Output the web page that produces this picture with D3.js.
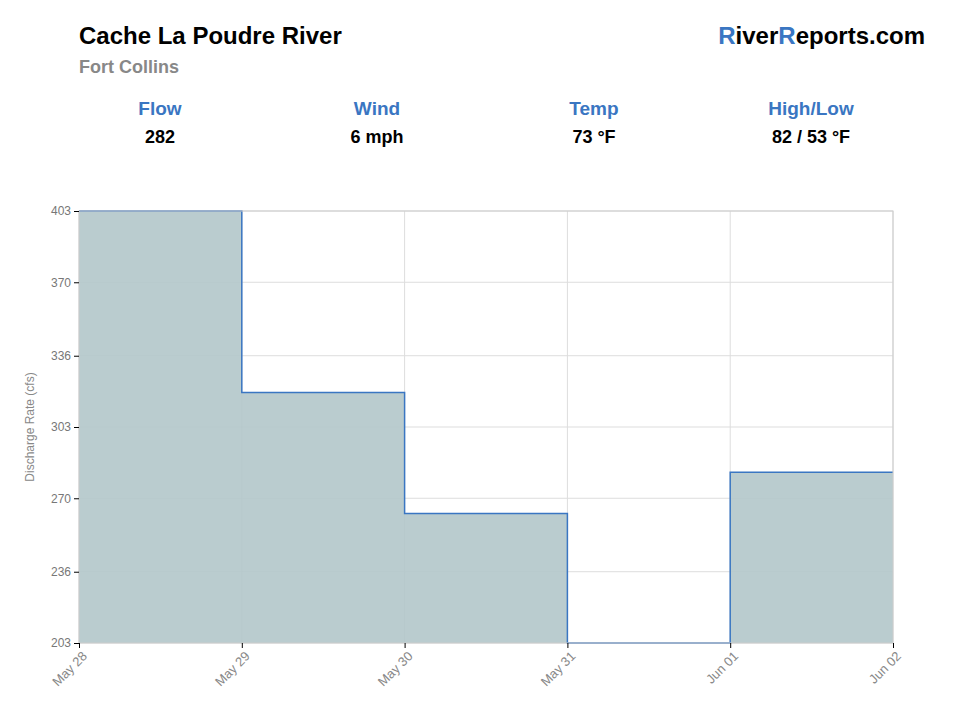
<!DOCTYPE html>
<html><head><meta charset="utf-8">
<script src="https://cdn.jsdelivr.net/npm/d3@7"></script>
<style>body{margin:0;background:#fff;font-family:"Liberation Sans",Arial,sans-serif}</style>
</head><body><svg id="c" width="960" height="720"></svg>
<script>
const dates=["2025-05-28","2025-05-29","2025-05-30","2025-05-31","2025-06-01","2025-06-02"];
const flows=[403,319,263,203,282,282];
const yTicks=[203,236,270,303,336,370,403];
const stats=[["Flow","282"],["Wind","6 mph"],["Temp","73 °F"],["High/Low","82 / 53 °F"]];
const svg=d3.select("#c");
const blue="#3a76c2";
svg.append("text").attr("x",79).attr("y",44).attr("font-size",24).attr("font-weight","bold").attr("fill","#000").text("Cache La Poudre River");
svg.append("text").attr("x",79).attr("y",73).attr("font-size",18).attr("font-weight","bold").attr("fill","#888").text("Fort Collins");
const logo=svg.append("text").attr("x",925).attr("y",44).attr("text-anchor","end").attr("font-size",24).attr("font-weight","bold").attr("fill","#000");
logo.append("tspan").attr("fill",blue).text("R");logo.append("tspan").text("iver");
logo.append("tspan").attr("fill",blue).text("R");logo.append("tspan").text("eports.com");
const sx=[160,377,594,811];
stats.forEach((s,i)=>{
 svg.append("text").attr("x",sx[i]).attr("y",115).attr("text-anchor","middle").attr("font-size",19).attr("font-weight","bold").attr("fill",blue).text(s[0]);
 svg.append("text").attr("x",sx[i]).attr("y",143).attr("text-anchor","middle").attr("font-size",18).attr("font-weight","bold").attr("fill","#000").text(s[1]);
});
const parse=d3.utcParse("%Y-%m-%d");
const data=dates.map((d,i)=>({d:parse(d),v:flows[i]}));
const L=79,R=893,T=211,B=643;
const x=d3.scaleUtc().domain([data[0].d,data[data.length-1].d]).range([L,R]);
const y=d3.scaleLinear().domain([203,403]).range([B,T]);
const g=svg.append("g");
yTicks.forEach(t=>g.append("line").attr("x1",L).attr("x2",R).attr("y1",y(t)).attr("y2",y(t)).attr("stroke","#ddd"));
data.forEach(p=>g.append("line").attr("x1",x(p.d)).attr("x2",x(p.d)).attr("y1",T).attr("y2",B).attr("stroke","#ddd"));
const area=d3.area().curve(d3.curveStepAfter).x(d=>x(d.d)).y0(B).y1(d=>y(d.v));
const line=d3.line().curve(d3.curveStepAfter).x(d=>x(d.d)).y(d=>y(d.v));
g.append("path").datum(data).attr("d",area).attr("fill","#b3c7ca").attr("fill-opacity",0.9);
g.append("path").datum(data).attr("d",line).attr("fill","none").attr("stroke",blue).attr("stroke-width",1.5);
g.append("rect").attr("x",L).attr("y",T).attr("width",R-L).attr("height",B-T).attr("fill","none").attr("stroke","#ccc");
const ya=svg.append("g").attr("transform",`translate(${L},0)`).call(d3.axisLeft(y).tickValues(yTicks).tickSize(5).tickFormat(d3.format("d")));
ya.select(".domain").remove();
ya.selectAll("text").attr("fill","#777").attr("font-size",12).attr("font-family","Liberation Sans,Arial");
ya.selectAll("line").attr("stroke","#000");
const xa=svg.append("g").attr("transform",`translate(0,${B})`).call(d3.axisBottom(x).tickValues(data.map(d=>d.d)).tickSize(5).tickFormat(d3.utcFormat("%b %d")));
xa.select(".domain").remove();
xa.selectAll("line").attr("stroke","#000");
xa.selectAll("text").attr("fill","#888").attr("font-size",13).attr("font-family","Liberation Sans,Arial").attr("text-anchor","end").attr("dx","-0.3em").attr("dy","0.6em").attr("transform","rotate(-45)");
svg.append("text").attr("transform",`translate(34,${(T+B)/2}) rotate(-90)`).attr("text-anchor","middle").attr("font-size",12).attr("fill","#888").text("Discharge Rate (cfs)");
</script></body></html>
